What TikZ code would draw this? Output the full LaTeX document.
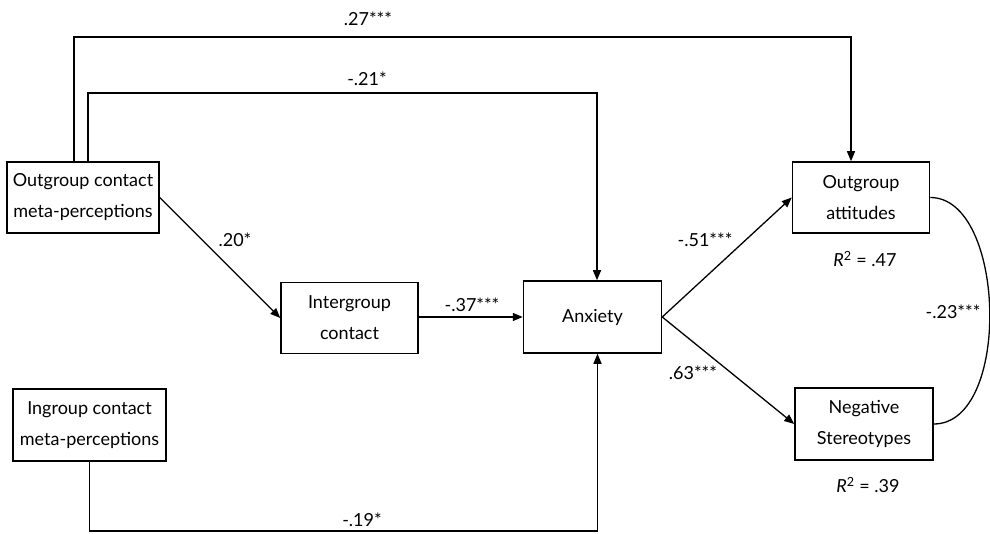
\documentclass[tikz,border=0pt]{standalone}
\usepackage{fontspec}
\setmainfont{Lato}
\usetikzlibrary{arrows.meta}

\begin{document}
\begin{tikzpicture}[x=1pt,y=-1pt,
  var/.style={draw,line width=1.5pt,align=center,inner sep=0pt,font=\fontsize{18}{31}\selectfont},
  link/.style={-{Triangle[length=10pt,width=8pt]},line width=1.3pt},
  coef/.style={inner sep=0pt,font=\fontsize{18}{20}\selectfont}]
  \useasboundingbox (0,0) rectangle (990,534);

  % variables
  \node[var,minimum width=152pt,minimum height=71pt] (om) at (83,197.5) {Outgroup contact\\meta-perceptions};
  \node[var,minimum width=137pt,minimum height=71pt] (ic) at (349.5,318) {Intergroup\\contact};
  \node[var,minimum width=138pt,minimum height=72pt] (anx) at (592.5,317) {Anxiety};
  \node[var,minimum width=137pt,minimum height=71pt] (oa) at (861,197.5) {Outgroup\\attitudes};
  \node[var,minimum width=138pt,minimum height=72pt] (ns) at (864,424) {Negative\\Stereotypes};
  \node[var,minimum width=153pt,minimum height=72pt] (im) at (89.5,425) {Ingroup contact\\meta-perceptions};

  % bends of the long paths
  \coordinate (k27) at (74,37);
  \coordinate (k21) at (88,93);
  \coordinate (k19) at (89.5,531);

  \draw[link] (om.north -| k27) -- (k27) -| ([xshift=-10pt]oa.north);
  \draw[link] (om.north -| k21) -- (k21) -| ([xshift=4.5pt]anx.north);
  \draw[link] (im.south) -- (k19) -| ([xshift=5pt]anx.south);
  \draw[link] (om.east) -- (ic.west);
  \draw[link] (ic.east |- anx.west) -- (anx.west);
  \draw[link] (anx.east) -- (oa.west);
  \draw[link] (anx.east) -- (ns.west);
  \draw[line width=1.3pt] (oa.east) .. controls +(76,0) and +(78,0) .. (ns.east);

  % coefficients
  \node[coef] (c27) at (368,19) {.27***};
  \node[coef] (c21) at (367,79) {-.21*};
  \node[coef] (c20) at (235,240) {.20*};
  \node[coef] (c37) at (472,305) {-.37***};
  \node[coef] (c51) at (705,240) {-.51***};
  \node[coef] (c63) at (693,373) {.63***};
  \node[coef] (c23) at (953,312) {-.23***};
  \node[coef] (c19) at (362,520) {-.19*};
  \node[coef] (r2oa) at (865,259) {\textit{R}\textsuperscript{2} = .47};
  \node[coef] (r2ns) at (868,485) {\textit{R}\textsuperscript{2} = .39};
\end{tikzpicture}
\end{document}
